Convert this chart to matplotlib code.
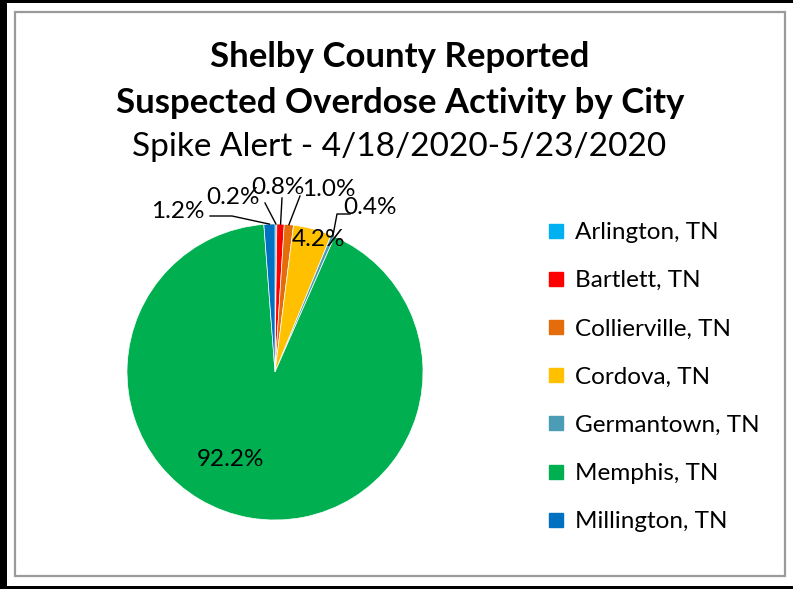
import numpy as np
import matplotlib
matplotlib.use("Agg")
import matplotlib.pyplot as plt
from matplotlib.patches import Rectangle
from matplotlib.lines import Line2D

plt.rcParams['font.family'] = ['Lato', 'DejaVu Sans']

cities = ["Arlington, TN", "Bartlett, TN", "Collierville, TN", "Cordova, TN",
          "Germantown, TN", "Memphis, TN", "Millington, TN"]
shares = [0.2, 0.8, 1.0, 4.2, 0.4, 92.2, 1.2]
colors = ["#00B0F0", "#FF0000", "#E46C0A", "#FFC000", "#4A9DB4", "#00B050", "#0070C0"]
pct_labels = ["0.2%", "0.8%", "1.0%", "4.2%", "0.4%", "92.2%", "1.2%"]

W, H = 794, 589
fig = plt.figure(figsize=(W / 100, H / 100), dpi=100)

def fx(px):
    return px / W

def fy(py):
    return 1 - py / H

# borders
fig.add_artist(Rectangle((fx(15), fy(576)), fx(785) - fx(15), fy(12) - fy(576),
                         transform=fig.transFigure, fill=False, edgecolor="#9a9a9a", lw=1.6))
fig.add_artist(Rectangle((0, fy(3)), fx(793), 1 - fy(3), transform=fig.transFigure,
                         facecolor="black", edgecolor="none"))
fig.add_artist(Rectangle((0, 0), fx(7), 1, transform=fig.transFigure,
                         facecolor="black", edgecolor="none"))
fig.add_artist(Rectangle((0, 0), fx(793), fy(586), transform=fig.transFigure,
                         facecolor="black", edgecolor="none"))

# titles
fig.text(fx(400), fy(57), "Shelby County Reported", ha="center", va="center",
         fontsize=25, fontweight="bold")
fig.text(fx(400), fy(103), "Suspected Overdose Activity by City", ha="center", va="center",
         fontsize=25, fontweight="bold")
fig.text(fx(399), fy(147), "Spike Alert - 4/18/2020-5/23/2020", ha="center", va="center",
         fontsize=24)

# pie axes: center (275,372), radius 148 px
cx, cy, R = 275, 372, 148
ax = fig.add_axes([fx(cx - R), fy(cy + R), 2 * R / W, 2 * R / H])
wedges, _ = ax.pie(shares, colors=colors, startangle=90, counterclock=False,
                   radius=1.0, wedgeprops=dict(edgecolor="white", linewidth=0.5))
ax.set_xlim(-1, 1)
ax.set_ylim(-1, 1)
ax.set_aspect("auto")
ax.axis("off")

def d(px, py):
    return ((px - cx) / R, (cy - py) / R)

def mid(w):
    a = np.deg2rad((w.theta1 + w.theta2) / 2)
    return (np.cos(a), np.sin(a))

fs = 17.5
lab_pos = {
    0: (233, 197), 1: (278, 187), 2: (329, 190), 4: (370, 208), 6: (178, 212)
}
# leader lines (label anchor points, in px)
leaders = {
    0: [(265, 203)],
    1: [(282, 198)],
    2: [(300, 196)],
    4: [(350, 214), (337, 214)],
    6: [(210, 216), (232, 216)],
}
for i, p in lab_pos.items():
    ax.text(*d(*p), pct_labels[i], ha="center", va="center", fontsize=fs, clip_on=False)
    pts = [d(*q) for q in leaders[i]] + [mid(wedges[i])]
    xs, ys = zip(*pts)
    ax.plot(xs, ys, color="black", lw=1.0, clip_on=False)

ax.text(*d(318, 240), pct_labels[3], ha="center", va="center", fontsize=fs, clip_on=False)
ax.text(*d(230, 460), pct_labels[5], ha="center", va="center", fontsize=fs, clip_on=False)

# legend
handles = [Line2D([], [], marker="s", linestyle="none", markersize=10,
                  markerfacecolor=c, markeredgecolor=c) for c in colors]
leg = fig.legend(handles, cities, loc="upper left",
                 bbox_to_anchor=(fx(546), fy(222)), frameon=False,
                 fontsize=17.5, handlelength=0.8, handletextpad=0.4,
                 labelspacing=1.12, borderaxespad=0, borderpad=0)

fig.savefig("out.png", dpi=100)
